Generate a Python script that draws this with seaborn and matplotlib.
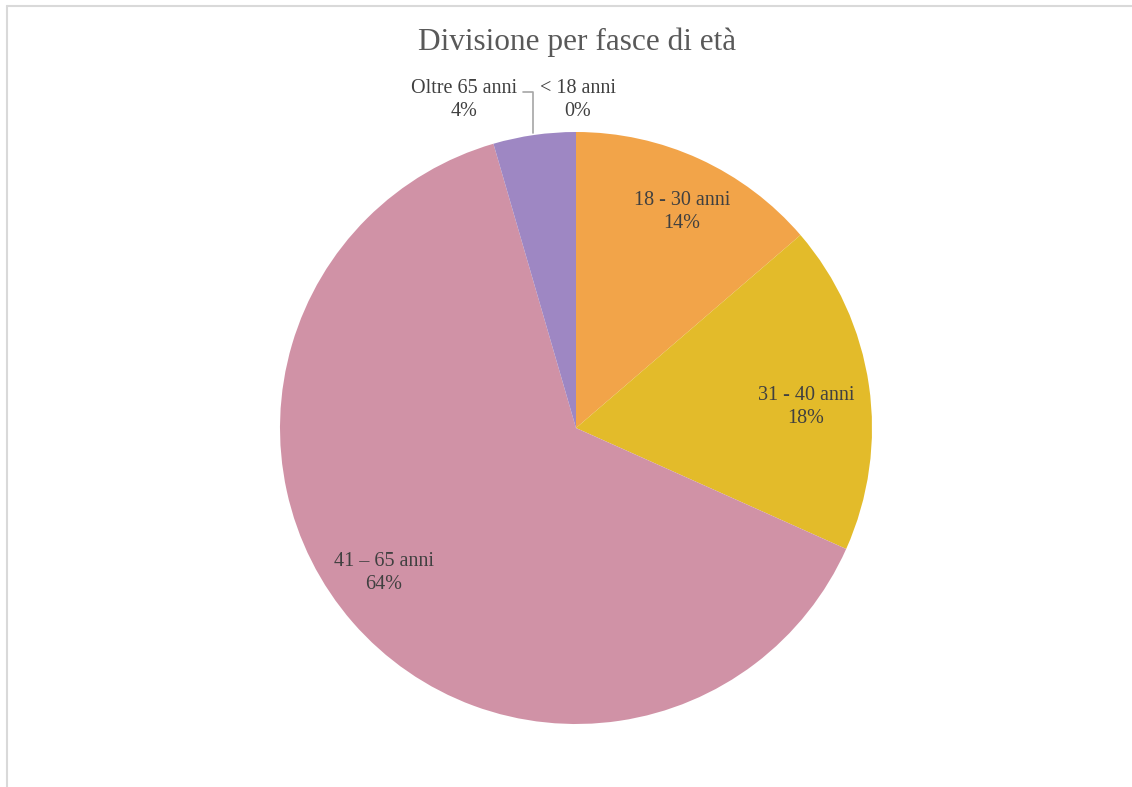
import matplotlib.pyplot as plt
import seaborn as sns
from matplotlib.lines import Line2D

# data (percent of respondents)
categories = ['< 18 anni', '18 - 30 anni', '31 - 40 anni', '41 – 65 anni', 'Oltre 65 anni']
shares = [0.0, 13.7, 18.0, 63.8, 4.5]
pct_labels = ['0%', '14%', '18%', '64%', '4%']
colors = ['#5B9BD5', '#F2A449', '#E3BB2A', '#D092A6', '#9E87C3']

# label anchor points (data coords, pie radius = 1)
label_pos = [(0.007, 1.108), (0.358, 0.730), (0.777, 0.071), (-0.649, -0.490), (-0.378, 1.108)]

sns.set_style('white')
plt.rcParams['font.family'] = ['Liberation Serif', 'DejaVu Serif']

W, H = 1132, 787
fig = plt.figure(figsize=(W / 100, H / 100), dpi=100)
fig.patch.set_facecolor('white')

# pie axes: centre (576, 428) px, radius 296 px
r = 296
ax = fig.add_axes([(576 - r) / W, (H - 428 - r) / H, 2 * r / W, 2 * r / H])
ax.pie(shares, colors=colors, startangle=90, counterclock=False, radius=1,
       wedgeprops=dict(linewidth=0, antialiased=True))
ax.set_xlim(-1, 1)
ax.set_ylim(-1, 1)
ax.set_aspect('equal')
ax.axis('off')

for (x, y), cat, pct in zip(label_pos, categories, pct_labels):
    ax.text(x, y, f'{cat}\n{pct}', ha='center', va='center', fontsize=14.5,
            color='#404040', linespacing=1.33, clip_on=False)

# leader line for the small "Oltre 65 anni" slice
ax.add_line(Line2D([(523 - 576) / r, (533 - 576) / r, (533 - 576) / r],
                   [(428 - 92) / r, (428 - 92) / r, (428 - 133) / r],
                   color='#A6A6A6', linewidth=1.2, clip_on=False))

fig.text(577 / W, 1 - 42 / H, 'Divisione per fasce di età', ha='center', va='center',
         fontsize=22.5, color='#595959')

# light frame (left and top edges visible in the crop)
fig.add_artist(Line2D([6.5 / W, 6.5 / W], [0, 1 - 5.5 / H], transform=fig.transFigure,
                      color='#D9D9D9', linewidth=1.5))
fig.add_artist(Line2D([6.5 / W, 1], [1 - 5.5 / H, 1 - 5.5 / H], transform=fig.transFigure,
                      color='#D9D9D9', linewidth=1.5))

fig.savefig('out.png', dpi=100)
